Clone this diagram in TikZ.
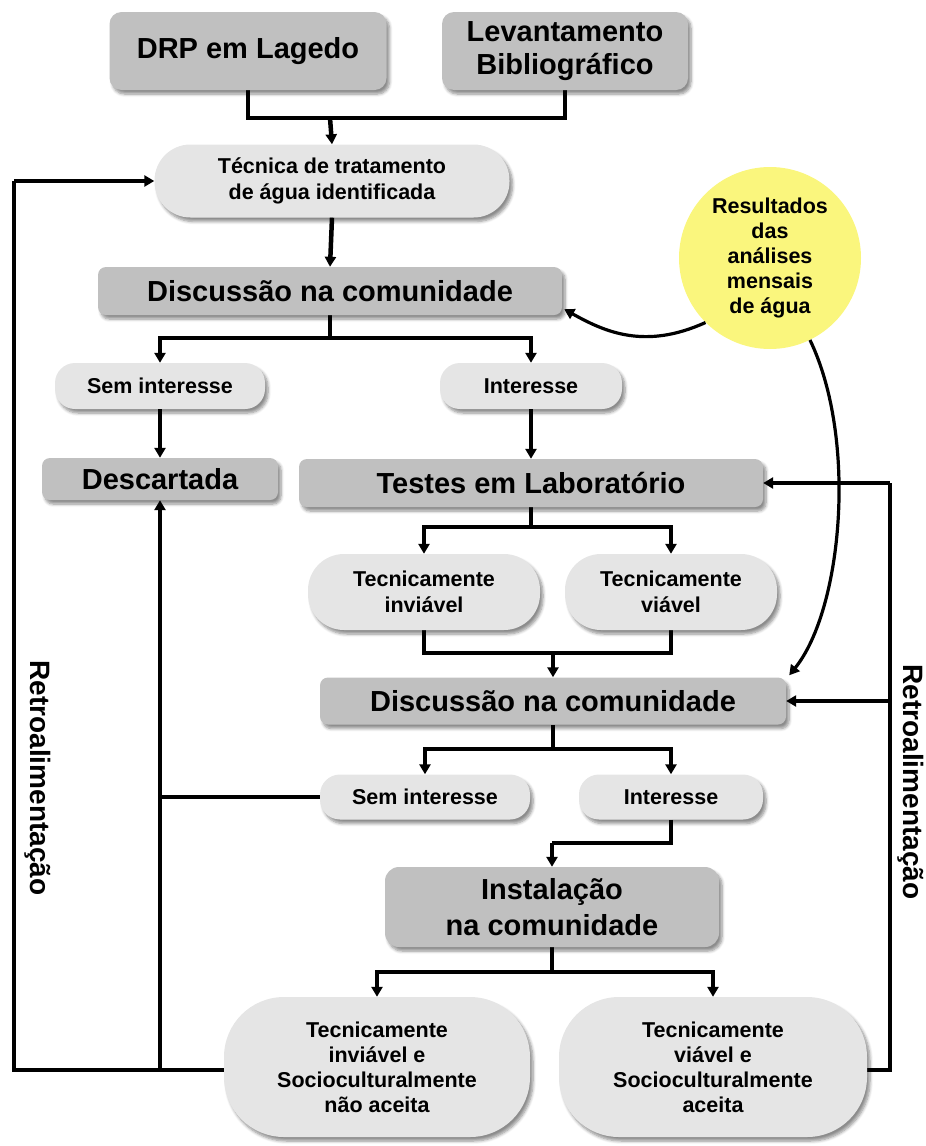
\documentclass[tikz,border=0pt]{standalone}
\usepackage{fontspec}
\setmainfont{Liberation Sans}
\usetikzlibrary{arrows.meta,shadows.blur,backgrounds,calc}
\definecolor{dgray}{RGB}{192,192,192}
\definecolor{lgray}{RGB}{229,229,229}
\definecolor{yel}{RGB}{250,246,125}
\tikzset{
  shad/.style={blur shadow={shadow xshift=3pt,shadow yshift=-4pt,shadow blur radius=3pt,shadow blur steps=6,shadow opacity=45}},
  dbox/.style={shad,fill=dgray,rounded corners=9pt,inner sep=0pt,align=center,text=black},
  lbox/.style={shad,fill=lgray,inner sep=0pt,align=center,text=black},
  big/.style={font=\bfseries\fontsize{29}{33}\selectfont},
  bigi/.style={font=\bfseries\fontsize{29}{36}\selectfont},
  small/.style={font=\bfseries\fontsize{21.5}{26}\selectfont},
  smallb/.style={font=\bfseries\fontsize{21.5}{25}\selectfont},
  retro/.style={rotate=-90,inner sep=0pt,font=\bfseries\fontsize{28}{32}\selectfont},
  conn/.style={line width=4.5pt,line join=miter},
  arr/.style={conn,-{Triangle[length=10pt,width=11pt]}},
  carr/.style={line width=3.2pt,-{Triangle[length=10pt,width=11pt]}},
}
\begin{document}
\begin{tikzpicture}[x=1pt,y=-1pt]
\useasboundingbox (0,0) rectangle (926,1146);
% nodes
\node[dbox,big,rounded corners=12pt,minimum width=277pt,minimum height=78pt] (drp) at (248,51) {DRP em Lagedo};
\node[dbox,big,rounded corners=12pt,minimum width=246pt,minimum height=78pt] (lev) at (565,51) {Levantamento\\Bibliográfico};
\node[lbox,small,rounded corners=36pt,minimum width=355pt,minimum height=73pt] (tec) at (332,181) {Técnica de tratamento\\de água identificada};
\node[dbox,big,rounded corners=8pt,minimum width=464pt,minimum height=48pt] (disc1) at (330,291) {Discussão na comunidade};
\node[lbox,small,rounded corners=20pt,minimum width=210pt,minimum height=46pt] (sem1) at (160,386) {Sem interesse};
\node[lbox,small,rounded corners=20pt,minimum width=182pt,minimum height=46pt] (int1) at (531,386) {Interesse};
\node[dbox,big,rounded corners=8pt,minimum width=236pt,minimum height=42pt] (desc) at (160,479) {Descartada};
\node[dbox,big,rounded corners=8pt,minimum width=464pt,minimum height=48pt] (testes) at (531,483) {Testes em Laboratório};
\node[lbox,small,rounded corners=36pt,minimum width=232pt,minimum height=76pt] (tinv) at (424,592) {Tecnicamente\\inviável};
\node[lbox,small,rounded corners=36pt,minimum width=212pt,minimum height=76pt] (tvia) at (671,592) {Tecnicamente\\viável};
\node[dbox,big,rounded corners=8pt,minimum width=466pt,minimum height=47pt] (disc2) at (553,701) {Discussão na comunidade};
\node[lbox,small,rounded corners=20pt,minimum width=210pt,minimum height=45pt] (sem2) at (425,797) {Sem interesse};
\node[lbox,small,rounded corners=20pt,minimum width=184pt,minimum height=45pt] (int2) at (671,797) {Interesse};
\node[dbox,bigi,rounded corners=14pt,minimum width=334pt,minimum height=80pt] (inst) at (552,907) {Instalação\\na comunidade};
\node[lbox,smallb,rounded corners=60pt,minimum width=306pt,minimum height=140pt] (binv) at (377,1067) {Tecnicamente\\inviável e\\Socioculturalmente\\não aceita};
\node[lbox,smallb,rounded corners=60pt,minimum width=308pt,minimum height=140pt] (bvia) at (713,1067) {Tecnicamente\\viável e\\Socioculturalmente\\aceita};
\node[circle,fill=yel,minimum size=182pt,inner sep=0pt,align=center,font=\bfseries\fontsize{21.5}{25}\selectfont] (res) at (770,258) {Resultados\\das\\análises\\mensais\\de água};
\node[retro] (rl) at (38,778) {Retroalimentação};
\node[retro] (rr) at (911,782) {Retroalimentação};
% junctions
\coordinate (j1) at (330,118);
\coordinate (j2) at (330,338);
\coordinate (j3) at (531,527);
\coordinate (j4) at (553,653);
\coordinate (j5) at (553,749);
\coordinate (j6) at (552,843);
\coordinate (j7) at (552,972);
\coordinate (fbL) at (14,1070);
\coordinate (fbR) at (890,1070);
\begin{scope}[on background layer]
\draw[conn] (drp.south) |- (j1) -| (lev.south);
\draw[conn] (disc1.south) -- (j2);
\draw[conn] (testes.south) -- (j3);
\draw[conn] (tinv.south) |- (j4) -| (tvia.south);
\draw[conn] (disc2.south) -- (j5);
\draw[conn] (int2.south) |- (j6);
\draw[conn] (inst.south) -- (j7);
\draw[conn] (binv.center |- fbL) -- (fbL) -- (fbL |- tec.west);
\draw[conn] (sem2.center) -- (sem2.west -| desc.south);
\draw[conn] (bvia.center |- fbR) -- (fbR) -- (fbR |- testes.east);
\end{scope}
\draw[arr] (j1) -- (tec.north);
\draw[arr] (tec.south) -- (disc1.north);
\draw[arr] (j2) -| (sem1.north);
\draw[arr] (j2) -| (int1.north);
\draw[arr] (sem1.south) -- (desc.north);
\draw[arr] (int1.south) -- (testes.north);
\draw[arr] (j3) -| (tinv.north);
\draw[arr] (j3) -| (tvia.north);
\draw[arr] (j4) -- (disc2.north);
\draw[arr] (j5) -| (sem2.north);
\draw[arr] (j5) -| (int2.north);
\draw[arr] (j6) -- (inst.north);
\draw[arr] (j7) -| (binv.north);
\draw[arr] (j7) -| (bvia.north);
\draw[arr] (fbL |- tec.west) -- (tec.west);
\draw[arr] (desc.south |- fbL) -- (desc.south);
\draw[arr] (fbR |- testes.east) -- (testes.east);
\draw[arr] (fbR |- disc2.east) -- (disc2.east);
\draw[carr] (res.225) .. controls (645,350) and (605,332) .. ($(disc1.south east)+(2,-6)$);
\draw[carr] (res.296) .. controls (858,440) and (842,610) .. ($(disc2.north east)+(3,-2)$);
\end{tikzpicture}
\end{document}
